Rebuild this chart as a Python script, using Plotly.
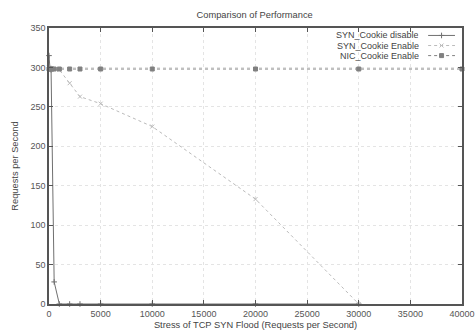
import plotly.graph_objects as go

# Data
disable_x = [0, 100, 200, 500, 1000, 2000, 3000, 5000, 10000, 20000, 30000]
disable_y = [315, 298, 297, 28, 0, 0, 0, 0, 0, 0, 0]

enable_x = [0, 100, 200, 500, 1000, 2000, 3000, 5000, 10000, 20000, 30000]
enable_y = [300, 299, 298, 298, 297, 280, 263, 254, 225, 133, 0]

nic_x = [0, 100, 200, 300, 500, 1000, 2000, 3000, 5000, 10000, 20000, 30000, 40000]
nic_y = [298, 298, 298, 298, 298, 298, 298, 298, 298, 298, 298, 298, 298]

series_names = ["SYN_Cookie disable", "SYN_Cookie Enable", "NIC_Cookie Enable"]
x_ticks = [0, 5000, 10000, 15000, 20000, 25000, 30000, 35000, 40000]
y_ticks = [0, 50, 100, 150, 200, 250, 300, 350]

FONT = "Liberation Sans, Arial, sans-serif"
styles = [
    dict(color="#707070", dash="solid", symbol="cross-thin", msize=4, width=1),
    dict(color="#bbbbbb", dash="dot", symbol="x-thin", msize=4, width=1),
    dict(color="#808080", dash="dot", symbol="square", msize=4, width=1),
]

fig = go.Figure()
for name, xs, ys, st in zip(series_names, [disable_x, enable_x, nic_x], [disable_y, enable_y, nic_y], styles):
    fig.add_trace(go.Scatter(
        x=xs, y=ys, mode="lines+markers", name=name, showlegend=False,
        line=dict(color=st["color"], dash=st["dash"], width=st["width"]),
        marker=dict(symbol=st["symbol"], size=st["msize"], color=st["color"],
                    line=dict(color=st["color"], width=1)),
        cliponaxis=False,
    ))

# gnuplot-style legend (text right-aligned, sample to the right), in plot-area coordinates
for i, (name, st) in enumerate(zip(series_names, styles)):
    yp = 0.973 - i * 0.0365
    fig.add_annotation(x=0.898, y=yp, xref="x domain", yref="y domain", text=name,
                       showarrow=False, xanchor="right", yanchor="middle", height=10,
                       borderpad=0, valign="middle",
                       font=dict(family=FONT, size=9, color="#444444"))
    fig.add_shape(type="line", xref="x domain", yref="y domain", x0=0.918, x1=0.983, y0=yp, y1=yp,
                  line=dict(color=st["color"], dash=st["dash"], width=1))
    fig.add_trace(go.Scatter(x=[0.9505], y=[yp], xaxis="x2", yaxis="y2", mode="markers",
                             showlegend=False, hoverinfo="skip",
                             marker=dict(symbol=st["symbol"], size=st["msize"], color=st["color"],
                                         line=dict(color=st["color"], width=1))))

axis_common = dict(
    showline=True, linecolor="#555555", linewidth=1.5, mirror="ticks",
    ticks="inside", ticklen=4, tickcolor="#555555", automargin=False,
    showgrid=True, gridcolor="#e4e4e4", griddash="dot", gridwidth=1,
    zeroline=False, tickfont=dict(family=FONT, size=9, color="#555555"),
)

fig.update_layout(
    width=476, height=333,
    margin=dict(l=49, r=14, t=28, b=29),
    paper_bgcolor="white", plot_bgcolor="white",
    title=dict(text="Comparison of Performance", x=0.535, xanchor="center", y=0.955, yanchor="middle",
               font=dict(family=FONT, size=9.3, color="#444444")),
    xaxis=dict(range=[0, 40000], tickvals=x_ticks, ticktext=[str(v) for v in x_ticks],
               title=dict(text="Stress of TCP SYN Flood (Requests per Second)", standoff=4,
                          font=dict(family=FONT, size=9.3, color="#444444")),
               **axis_common),
    yaxis=dict(range=[0, 350], tickvals=y_ticks, ticktext=[str(v) for v in y_ticks],
               title=dict(text="Requests per Second", standoff=10,
                          font=dict(family=FONT, size=9.3, color="#444444")),
               **axis_common),
    xaxis2=dict(range=[0, 1], visible=False, overlaying="x", anchor="y2"),
    yaxis2=dict(range=[0, 1], visible=False, overlaying="y", anchor="x2"),
)

fig.write_html("out.html", config={"displayModeBar": False},
               post_script="document.body.style.margin='0px';document.body.style.overflow='hidden';")
